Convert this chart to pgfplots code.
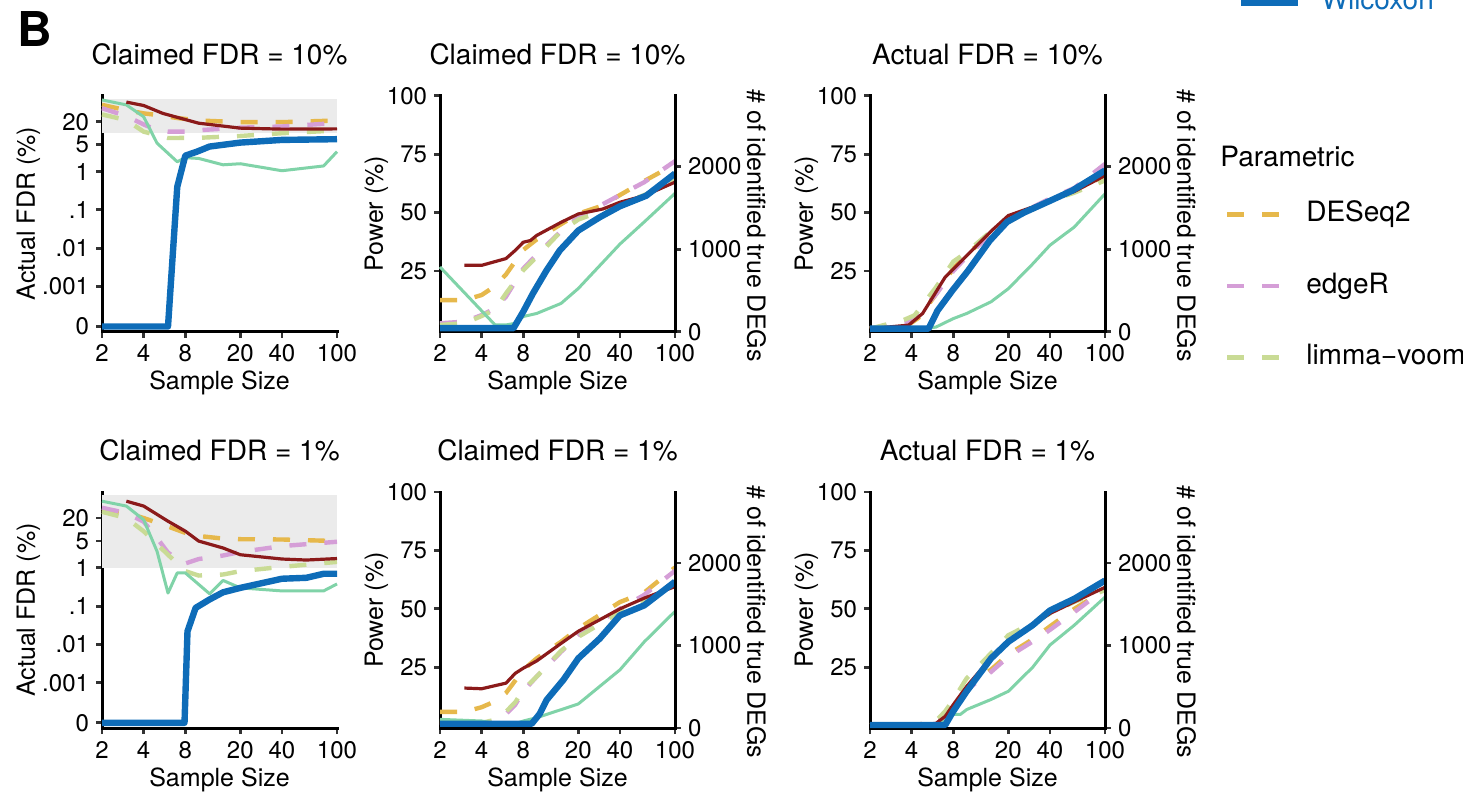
\documentclass[border=0pt]{standalone}
\usepackage{pgfplots}
\pgfplotsset{compat=1.18}
\usepackage{fontspec}
\setmainfont{TeX Gyre Heros}
\definecolor{cwil}{HTML}{0E6CB8}
\definecolor{cred}{HTML}{8B1A1A}
\definecolor{cmint}{HTML}{80D3A8}
\definecolor{cdes}{HTML}{E6B84B}
\definecolor{cedg}{HTML}{D59ED7}
\definecolor{clim}{HTML}{C9DB95}
\definecolor{cbox}{HTML}{EBEBEB}
\definecolor{ctick}{HTML}{333333}
\pgfplotsset{
  sdes/.style={cdes, line width=2.2pt, dash pattern=on 8.5pt off 9pt},
  sedg/.style={cedg, line width=2.2pt, dash pattern=on 8.5pt off 9pt},
  slim/.style={clim, line width=2.2pt, dash pattern=on 8.5pt off 9pt},
  smint/.style={cmint, line width=1.5pt, line join=round},
  sred/.style={cred, line width=1.6pt, line join=round},
  swil/.style={cwil, line width=3.2pt, line join=round},
  myframe/.style={scale only axis, width=117.5pt, height=118pt,
    axis line style={-, line width=1.5pt, black, line cap=rect},
    tick align=outside, major tick length=3pt,
    tick style={line width=1.4pt, ctick},
    ticklabel style={font=\fontsize{12}{14}\selectfont},
    label style={font=\fontsize{12.5}{14}\selectfont}},
  mybase/.style={myframe, xmin=2, xmax=100,
    xtick={2,4,8,20,40,100}, xticklabels={2,4,8,20,40,100}, xminorticks=false,
    axis x line*=bottom, axis y line*=left, clip=false,
    title style={font=\fontsize{14}{16}\selectfont, at={(axis description cs:0.5,1)}, anchor=base, yshift=9.8pt},
    xlabel={Sample Size}, xlabel style={at={(axis description cs:0.5,-0.246)}, anchor=base}},
  myfdr/.style={mybase, ymin=6.6e-5, ymax=95.5,
    ytick={0.00009,0.001,0.01,0.1,1,5,20}, yticklabels={0,.001,.01,.1,1,5,20}, yminorticks=false,
    ylabel={Actual FDR (\%)}, ylabel style={at={(axis description cs:-0.286,0.5)}, anchor=base}},
  mypow/.style={mybase, ymin=-1, ymax=100, ytick={25,50,75,100}, yticklabels={25,50,75,100},
    ylabel={Power (\%)}, ylabel style={at={(axis description cs:-0.2426,0.5)}, anchor=base}},
  myrgt/.style={myframe, axis x line=none, axis y line*=right, xmin=0, xmax=1,
    ymin=0, ymax=2860, ytick={0,1000,2000}, yticklabels={0,1000,2000},
    ylabel={\# of identified true DEGs},
    ylabel style={at={(axis description cs:1.308,0.45)}, anchor=base, rotate=180}},
}
\begin{document}
\begin{tikzpicture}
% ---------- Row 1, col 1
\begin{axis}[xmode=log, ymode=log, myfdr, at={(51pt,231.15pt)}, anchor=south west, title={Claimed FDR = 10\%}]
\addplot[fill=cbox, draw=none] coordinates {(2,10) (100,10) (100,80) (2,80)};
\addplot[sdes] coordinates {(2,55) (3,40) (4,33) (5,30) (7,25) (10,21.5) (20,19.5) (40,19.5) (100,21.5)};
\addplot[sedg] coordinates {(2,45) (3,28) (4,17) (5,12) (6,11) (8,11) (10,12) (20,14) (40,15) (100,18.5)};
\addplot[slim] coordinates {(2,31) (3,22) (4,11) (6,7.5) (10,7.6) (20,8.5) (40,10) (100,11.8)};
\addplot[smint] coordinates {(2,74) (3,55) (4,27) (5,5.5) (7,1.8) (8,2.3) (10,2.2) (15,1.5) (20,1.6) (40,1.05) (80,1.4) (100,3.3)};
\addplot[sred] coordinates {(3,65) (4,53) (5.5,33) (7,26) (10,18.3) (20,13.6) (40,12.8) (100,13)};
\addplot[swil] coordinates {(2,0.00009) (6,0.00009) (7,0.4) (8,2.6) (9.7,3.3) (12,4.5) (20,5.7) (40,6.7) (100,7)};
\end{axis}
% ---------- Row 1, col 2
\begin{axis}[xmode=log, mypow, at={(220pt,231.15pt)}, anchor=south west, title={Claimed FDR = 10\%}]
\addplot[sdes] coordinates {(2,12.5) (3,12.5) (4,14.7) (5,18.5) (6,23.5) (8,34) (10,38.5) (15,45) (20,49.5) (30,53) (40,57.5) (60,63.5) (100,70.7)};
\addplot[sedg] coordinates {(2,2.6) (3,3.3) (4,6.1) (5,9) (6,14) (8,26) (10,32) (15,42) (20,48) (40,57.5) (60,63) (100,72)};
\addplot[slim] coordinates {(2,1.9) (3,2.6) (4,5.7) (5,8.5) (6,15.4) (8,25.3) (10,31) (15,42) (20,47) (40,53.5) (60,57.5) (100,63.6)};
\addplot[smint] coordinates {(2,26.7) (5,1.9) (6,1.9) (7,2.6) (8,5.5) (10,6.8) (15,11.1) (20,17.5) (40,36.5) (60,46) (100,58.2)};
\addplot[sred] coordinates {(3,27.4) (4,27.4) (6,30.3) (7,33.8) (8,37.3) (9,38) (10,40.2) (15,45.8) (20,49.4) (30,51.5) (40,54.4) (60,57.2) (100,63)};
\addplot[swil] coordinates {(2,0.5) (6.8,0.5) (8,7.6) (9.4,15.4) (11.8,25.3) (14.7,33.8) (20,42.3) (28.6,48) (40,52.7) (62,57.2) (100,66.7)};
\end{axis}
\begin{axis}[myrgt, at={(220pt,231.15pt)}, anchor=south west,
  legend image code/.code={\draw[#1] (0pt,0pt) -- (28.5pt,0pt);},
  legend style={at={(axis description cs:3.395,1.3928)}, anchor=west, draw=none, fill=none,
    inner sep=0pt, column sep=10pt, font=\fontsize{14}{16}\selectfont,
    nodes={inner sep=0pt, text height=10pt, text depth=3pt}},
  legend cell align=left]
\addlegendimage{swil}
\addlegendentry{\textcolor{cwil}{Wilcoxon}}
\end{axis}
% ---------- Row 1, col 3
\begin{axis}[xmode=log, mypow, at={(435pt,231.15pt)}, anchor=south west, title={Actual FDR = 10\%}]
\addplot[sdes] coordinates {(2,0.3) (3.7,1.5) (4.5,5) (6,15) (7,21) (8,26) (10,32) (15,41) (20,46) (40,55) (60,59) (100,66)};
\addplot[sedg] coordinates {(2,0.3) (3.6,3) (4.2,5) (6,15) (8,25) (10,31) (15,41) (20,47) (40,56) (60,60.5) (100,70.8)};
\addplot[slim] coordinates {(2,0.3) (3.5,4) (4.2,6) (6,18) (8,29) (10,33) (15,42) (20,48) (40,55) (60,58.5) (100,63.7)};
\addplot[smint] coordinates {(2,0.3) (5,0.3) (6,1) (8,4.6) (10,6.8) (15,11.8) (20,17.4) (30,28) (40,36) (60,43.8) (100,58)};
\addplot[sred] coordinates {(2,0.3) (3.8,1.8) (4.8,6.8) (7,22.4) (8.3,26.7) (10,31.5) (15,42) (20,48.7) (40,55) (60,59) (100,65.8)};
\addplot[swil] coordinates {(2,0.3) (5.3,0.3) (6.15,8) (7.9,16.7) (10.2,25) (14.7,38) (19.6,46) (26,50) (40,55) (58,59.4) (100,68)};
\end{axis}
\begin{axis}[myrgt, at={(435pt,231.15pt)}, anchor=south west,
  legend image code/.code={\draw[#1] (0pt,0pt) -- (26.5pt,0pt);},
  legend style={at={(axis description cs:1.5085,0.1936)}, anchor=west, draw=none, fill=none,
    inner sep=0pt, column sep=12pt, row sep=22.75pt, font=\fontsize{14}{16}\selectfont,
    nodes={inner sep=0pt, text height=10pt, text depth=3pt}},
  legend cell align=left]
\addlegendimage{sdes}
\addlegendentry{DESeq2}
\addlegendimage{sedg}
\addlegendentry{edgeR}
\addlegendimage{slim}
\addlegendentry{limma\textminus voom}
\end{axis}
% ---------- Row 2, col 1
\begin{axis}[xmode=log, ymode=log, myfdr, at={(51pt,33pt)}, anchor=south west, title={Claimed FDR = 1\%}]
\addplot[fill=cbox, draw=none] coordinates {(2,1) (100,1) (100,80) (2,80)};
\addplot[sdes] coordinates {(2,33) (3,27) (4,20) (6,12) (8,8.2) (10,6.8) (15,5.8) (20,5.6) (40,5.5) (100,5)};
\addplot[sedg] coordinates {(2,37) (3,27) (4,16) (5,6) (6,2.5) (7,1.7) (8,1.3) (10,1.7) (15,2.1) (20,2.6) (40,3.7) (100,4.8)};
\addplot[slim] coordinates {(2,29) (3,20) (4,9) (6,2.2) (8,0.82) (10,0.63) (15,0.67) (20,0.82) (40,1.06) (100,1.43)};
\addplot[smint] coordinates {(2,55) (3,41) (4,18) (5,2.7) (6,0.22) (7,0.74) (8,0.74) (12,0.21) (15,0.47) (20,0.3) (40,0.25) (80,0.25) (100,0.38)};
\addplot[sred] coordinates {(3,55) (4,41) (6,16.5) (8,9.1) (10,5) (15,3.3) (20,2.2) (40,1.7) (60,1.6) (100,1.75)};
\addplot[swil] coordinates {(2,0.00009) (7.9,0.00009) (8.3,0.022) (9.5,0.09) (12,0.15) (15,0.23) (20,0.3) (40,0.52) (60,0.55) (80,0.7) (100,0.7)};
\end{axis}
% ---------- Row 2, col 2
\begin{axis}[xmode=log, mypow, at={(220pt,33pt)}, anchor=south west, title={Claimed FDR = 1\%}]
\addplot[sdes] coordinates {(2,5.9) (3,5.9) (4,7.9) (5,10.4) (6,14) (8,23.9) (10,28.8) (15,35.9) (20,41.6) (40,52.9) (60,57) (100,67.7)};
\addplot[sedg] coordinates {(2,1.2) (4,0.5) (5,2) (6,5) (7,9) (8,14.7) (10,21) (15,31.6) (20,38.7) (40,50) (60,56) (100,66.3)};
\addplot[slim] coordinates {(2,2) (4,1.2) (5,2.5) (6,6) (7,10) (8,15.4) (10,21) (15,32) (20,38) (40,48.6) (60,53) (100,60)};
\addplot[smint] coordinates {(2,2.7) (4,2) (5,1) (6,0.8) (7,0.8) (8,2) (10,3.4) (20,9.3) (40,23.9) (60,35.9) (100,48.9)};
\addplot[sred] coordinates {(3,16.1) (4,15.8) (6,18.2) (7,22.4) (8,24.6) (10,27.7) (15,35.2) (20,40.4) (40,50) (60,54.6) (100,59.5)};
\addplot[swil] coordinates {(2,0.8) (9.2,0.8) (10.5,5) (11.8,11) (15.6,19.6) (20,28.8) (28.6,37.3) (40,47.2) (60,51.5) (100,61.6)};
\end{axis}
\begin{axis}[myrgt, at={(220pt,33pt)}, anchor=south west]
\end{axis}
% ---------- Row 2, col 3
\begin{axis}[xmode=log, mypow, at={(435pt,33pt)}, anchor=south west, title={Actual FDR = 1\%}]
\addplot[sdes] coordinates {(2,0.3) (4,0.3) (6,1.2) (7,4) (8,8) (10,15) (12,20) (15,24) (20,30.5) (30,37) (40,42.5) (60,50) (100,58)};
\addplot[sedg] coordinates {(2,0.3) (4,0.3) (6,1.2) (7,4) (8,8) (10,15) (12,19) (15,23) (20,29.5) (30,36) (40,41) (60,48.6) (100,58.5)};
\addplot[slim] coordinates {(2,0.3) (5,0.5) (6,2) (7,6.2) (8,11) (10,20.3) (15,31) (20,38.7) (30,44) (40,48) (60,53) (100,58)};
\addplot[smint] coordinates {(2,0.3) (6,0.5) (7,2) (8,4.8) (9,4.8) (10,6.9) (15,11.2) (20,14.7) (30,25) (40,34.5) (60,43) (100,55)};
\addplot[sred] coordinates {(2,0.3) (5,0.5) (6,1) (7,4) (8,9) (10,16.8) (15,29) (20,36.5) (30,43) (40,48) (60,53) (100,59.2)};
\addplot[swil] coordinates {(2,0.3) (7,0.3) (8,6.2) (10,14.7) (15,28.8) (20,35.9) (30,43) (40,49.3) (60,54.3) (100,62.1)};
\end{axis}
\begin{axis}[myrgt, at={(435pt,33pt)}, anchor=south west]
\end{axis}
% ---------- texts
\node[anchor=base west, inner sep=0pt, font=\fontsize{24}{26}\selectfont\bfseries] at (8.5pt,373.5pt) {B};
\node[anchor=base west, inner sep=0pt, font=\fontsize{14}{16}\selectfont] at (610pt,313.65pt) {Parametric};
\pgfresetboundingbox
\path[use as bounding box] (0pt,0pt) rectangle (731.5pt,397pt);
\end{tikzpicture}
\end{document}
